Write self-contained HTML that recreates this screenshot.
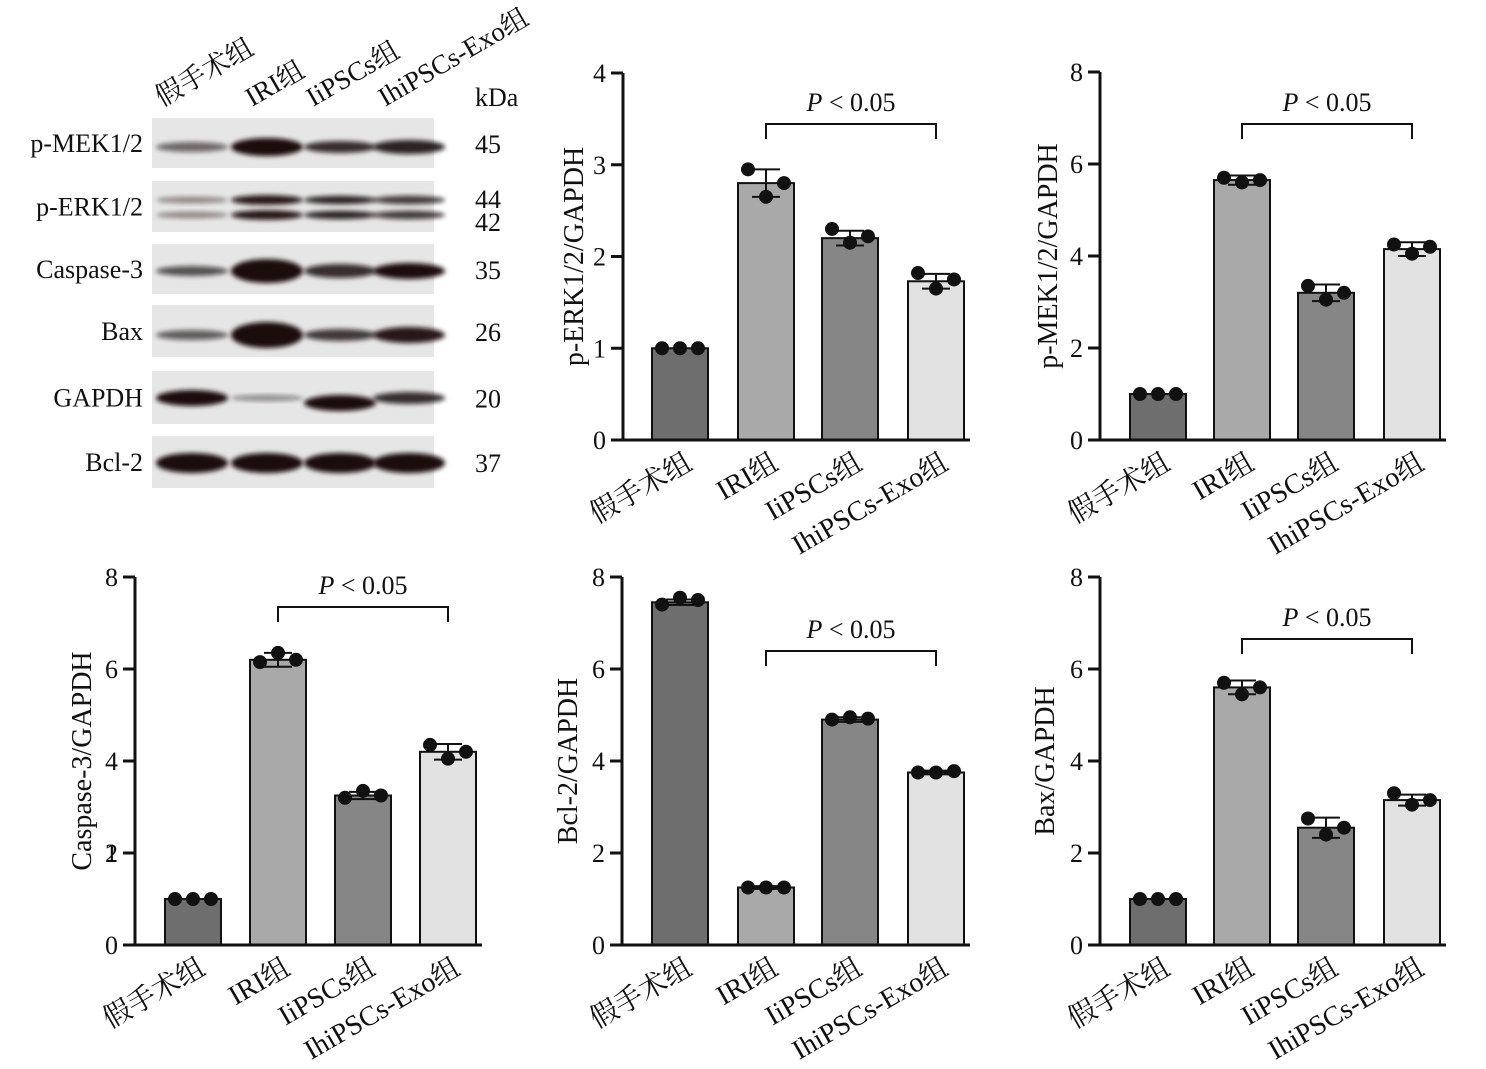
<!DOCTYPE html>
<html><head><meta charset="utf-8"><style>
body{margin:0;background:#fff;width:1486px;height:1064px;overflow:hidden}
svg text{font-family:"Liberation Serif","Noto Serif CJK SC",serif;fill:#111}
</style></head><body>
<svg id="s" width="1486" height="1064" xmlns="http://www.w3.org/2000/svg">
<defs><filter id="b" x="-20%" y="-50%" width="140%" height="200%"><feGaussianBlur stdDeviation="2.5"/></filter></defs>
</svg>
<script>
const S=document.getElementById('s');const NS='http://www.w3.org/2000/svg';
function el(t,a,txt){const e=document.createElementNS(NS,t);for(const k in a)e.setAttribute(k,a[k]);if(txt!==undefined)e.textContent=txt;S.appendChild(e);return e;}
const lanesX=[192,267,340,409];
const rows=[
 {n:'p-MEK1/2',y1:118,y2:168,k:['45'],b:[[0.6,5],[1,9],[0.85,6],[0.9,7]],by:[147]},
 {n:'p-ERK1/2',y1:181,y2:232,k:['44','42'],b:[[0.4,5],[0.95,7],[0.9,6],[0.8,6]],by:[200,215]},
 {n:'Caspase-3',y1:244,y2:294,k:['35'],b:[[0.7,5],[1,12],[0.85,7],[1,8]],by:[271]},
 {n:'Bax',y1:305,y2:357,k:['26'],b:[[0.65,5],[1,13],[0.8,6],[0.95,8]],by:[335]},
 {n:'GAPDH',y1:371,y2:424,k:['20'],b:[[1,8],[0.45,3],[1,8],[0.85,6]],by:[398]},
 {n:'Bcl-2',y1:436,y2:488,k:['37'],b:[[1,10],[1,10],[1,10],[1,10]],by:[463]}
];
rows.forEach(r=>{
 el('rect',{x:152,y:r.y1,width:282,height:r.y2-r.y1,fill:'#e6e6e6'});
 r.by.forEach((yy,j)=>{
  r.b.forEach((bb,i)=>{
   const dy=(r.n==='GAPDH'&&i==2)?5:0;
   el('ellipse',{cx:lanesX[i],cy:yy+dy,rx:36,ry:bb[1]*(r.by.length>1?0.7:1),fill:'#1a1010','fill-opacity':bb[0],filter:'url(#b)'});
  });
 });
 el('text',{x:143,y:(r.y1+r.y2)/2+9,'font-size':26,'text-anchor':'end'},r.n);
 if(r.k.length==1) el('text',{x:475,y:(r.y1+r.y2)/2+10,'font-size':26},r.k[0]);
 else {el('text',{x:475,y:208,'font-size':26},'44');el('text',{x:475,y:231,'font-size':26},'42');}
});
el('text',{x:475,y:106,'font-size':26},'kDa');
[['假手术组',162,107],['IRI组',252,107],['IiPSCs组',313,107],['IhiPSCs-Exo组',385,107]].forEach(l=>{
 el('text',{x:l[1],y:l[2],'font-size':27,transform:`rotate(-30 ${l[1]} ${l[2]})`},l[0]);
});
const fills=['#6e6e6e','#a9a9a9','#868686','#e2e2e2'];
const cats=['假手术组','IRI组','IiPSCs组','IhiPSCs-Exo组'];
function chart(o){
 const ax=o.ax,y0=o.y0,yt=o.yt,max=o.max,sc=(y0-yt)/max;
 const Y=v=>y0-v*sc;
 o.bx.forEach((bx,i)=>{
  const v=o.v[i];
  el('rect',{x:bx,y:Y(v),width:56,height:y0-Y(v),fill:fills[i],stroke:'#111','stroke-width':2});
  const c=bx+28,e=o.e[i];
  if(e>0.01){el('line',{x1:c,x2:c,y1:Y(v-e),y2:Y(v+e),stroke:'#111','stroke-width':2});
   el('line',{x1:c-14,x2:c+14,y1:Y(v+e),y2:Y(v+e),stroke:'#111','stroke-width':2});
   el('line',{x1:c-14,x2:c+14,y1:Y(v-e),y2:Y(v-e),stroke:'#111','stroke-width':2});}
  o.p[i].forEach((pv,j)=>el('circle',{cx:c-18+j*18,cy:Y(pv),r:7,fill:'#111'}));
  const tx=c+14,ty=y0+28;
  el('text',{x:tx,y:ty,'font-size':28,'text-anchor':'end',transform:`rotate(-30 ${tx} ${ty})`},cats[i]);
 });
 el('line',{x1:ax,x2:ax,y1:yt,y2:y0+1,stroke:'#111','stroke-width':3});
 el('line',{x1:ax-1,x2:o.bx[3]+62,y1:y0,y2:y0,stroke:'#111','stroke-width':3});
 o.ticks.forEach(t=>{el('line',{x1:ax-12,x2:ax,y1:Y(t),y2:Y(t),stroke:'#111','stroke-width':3});
  el('text',{x:ax-17,y:Y(t)+9,'font-size':26,'text-anchor':'end'},String(t));});
 if(o.extra) el('text',{x:ax-17,y:Y(2)+9,'font-size':26,'text-anchor':'end'},'1');
 const yl=(y0+yt)/2;
 el('text',{x:o.lx,y:yl,'font-size':28,'text-anchor':'middle',transform:`rotate(-90 ${o.lx} ${yl})`},o.label);
 const c1=o.bx[1]+28,c2=o.bx[3]+28,by=o.br;
 el('polyline',{points:`${c1},${by+15} ${c1},${by} ${c2},${by} ${c2},${by+15}`,fill:'none',stroke:'#111','stroke-width':2});
 const t=el('text',{x:(c1+c2)/2,y:by-13,'font-size':26,'text-anchor':'middle'});
 const ti=document.createElementNS(NS,'tspan');ti.setAttribute('font-style','italic');ti.textContent='P';t.appendChild(ti);
 t.appendChild(document.createTextNode(' < 0.05'));
}
const bxA=[652,738,822,908],bxB=[1130,1214,1298,1384],bxC=[165,250,335,420];
chart({ax:623,y0:440,yt:73,max:4,bx:bxA,v:[1,2.8,2.2,1.73],e:[0,0.15,0.08,0.08],p:[[1,1,1],[2.95,2.65,2.8],[2.3,2.15,2.22],[1.82,1.65,1.75]],ticks:[0,1,2,3,4],lx:583,label:'p-ERK1/2/GAPDH',br:124});
chart({ax:1100,y0:440,yt:72,max:8,bx:bxB,v:[1,5.65,3.2,4.15],e:[0,0.1,0.18,0.15],p:[[1,1,1],[5.7,5.6,5.65],[3.35,3.05,3.2],[4.25,4.05,4.2]],ticks:[0,2,4,6,8],lx:1057,label:'p-MEK1/2/GAPDH',br:124});
chart({ax:135,y0:945,yt:577,max:8,bx:bxC,v:[1,6.2,3.25,4.2],e:[0,0.15,0.08,0.17],p:[[1,1,1],[6.15,6.35,6.2],[3.2,3.35,3.25],[4.35,4.05,4.2]],ticks:[0,4,6,8,2],extra:true,lx:91,label:'Caspase-3/GAPDH',br:607});
chart({ax:622,y0:945,yt:577,max:8,bx:bxA,v:[7.45,1.25,4.9,3.75],e:[0.06,0.03,0.05,0.04],p:[[7.4,7.55,7.5],[1.25,1.25,1.25],[4.9,4.95,4.92],[3.75,3.75,3.78]],ticks:[0,2,4,6,8],lx:577,label:'Bcl-2/GAPDH',br:651});
chart({ax:1100,y0:945,yt:577,max:8,bx:bxB,v:[1,5.6,2.55,3.15],e:[0,0.15,0.22,0.12],p:[[1,1,1],[5.7,5.45,5.6],[2.75,2.4,2.55],[3.3,3.05,3.15]],ticks:[0,2,4,6,8],lx:1054,label:'Bax/GAPDH',br:639});
</script>
</body></html>
